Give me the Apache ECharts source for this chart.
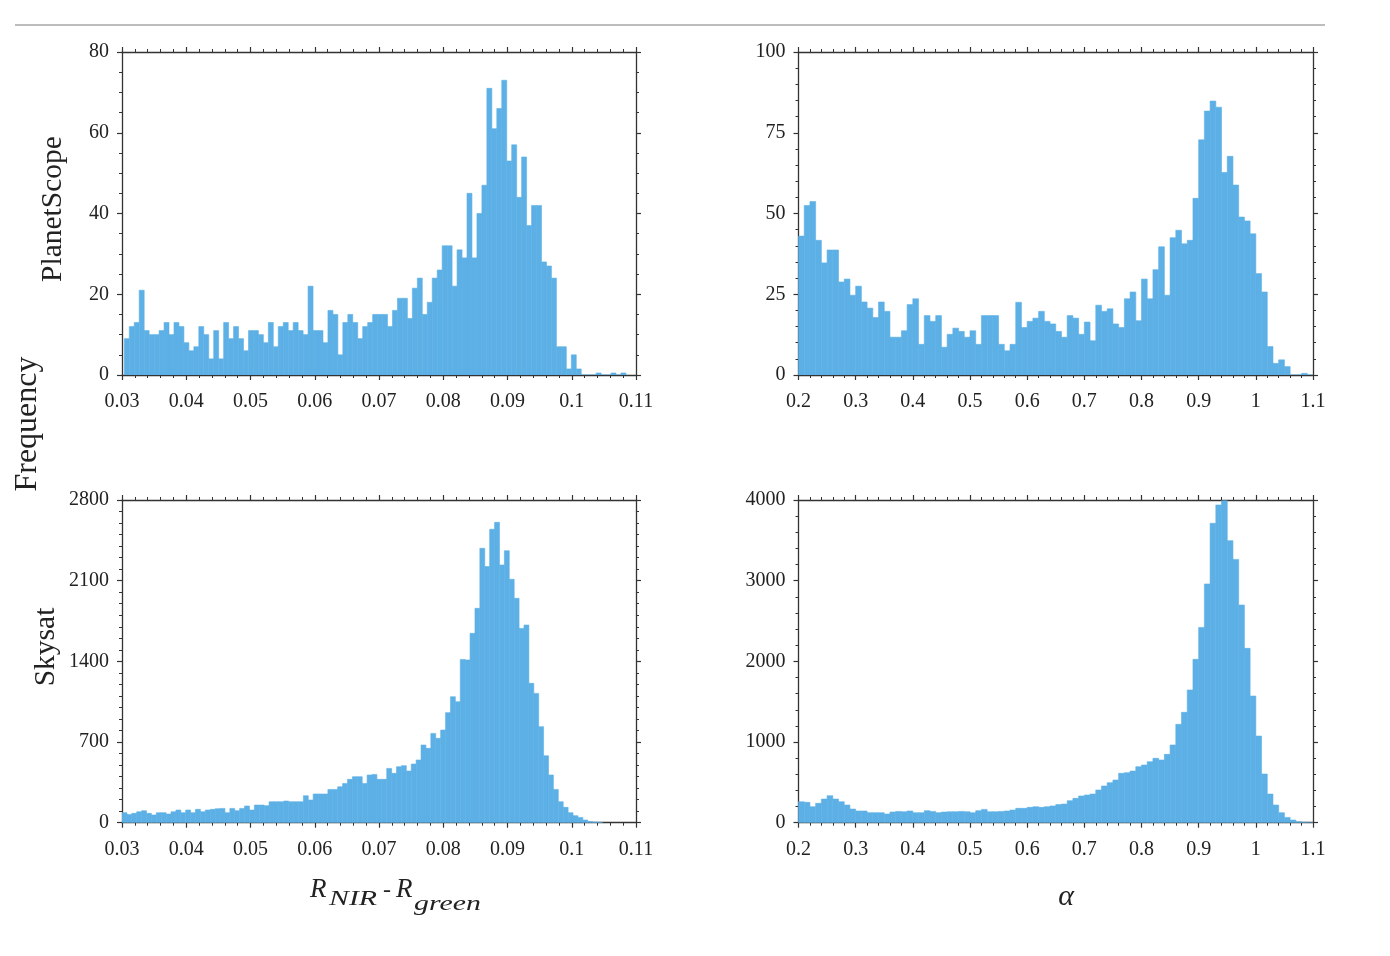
<!DOCTYPE html>
<html><head><meta charset="utf-8">
<script src="https://cdn.jsdelivr.net/npm/echarts@6/dist/echarts.min.js"></script>
<style>html,body{margin:0;padding:0;background:#fff}#c{width:1390px;height:956px}</style>
</head><body><div id="c"></div>
<script>
// ---------- DATA ----------
// PlanetScope, R_NIR - R_green
const psDiffBinStart = 0.03036;
const psDiffBinWidth = 0.000773;
const psDiffCounts = [9,12,13,21,11,10,10,11,13,10,13,12,8,6,7,12,10,4,11,4,13,9,12,9,6,11,11,10,8,13,7,12,13,11,13,11,10,22,11,11,8,16,15,5,13,15,13,9,12,13,15,15,15,12,16,19,19,14,21.5,24,15,18,24,26,32,32,22,31,29,45,29,40,47,71,61,66,73,53,57,44,54,37,42,42,28,27,24,7,7,1.5,5,1.5,0,0,0,0.5,0,0,0.5,0,0.5];
// PlanetScope, alpha
const psAlphaBinStart = 0.2;
const psAlphaBinWidth = 0.01;
const psAlphaCounts = [43,52.5,53.7,41.7,34.7,38.7,38.7,28.8,29.7,24.7,27.5,22.6,20.7,17.8,22.6,19.7,11.7,11.7,13.7,21.8,23.6,9.5,18.4,16.6,18.4,8.6,12.6,14.5,13.5,11.7,13.7,9.5,18.4,18.4,18.4,9.5,7.5,9.5,22.5,14.7,16.6,17.6,19.7,16.6,15.8,13.5,11.7,18.4,17.6,12.6,16.4,10.6,21.6,19.7,20.5,15.8,14.7,23.6,25.7,16.8,29.7,23.6,32.6,39.7,24.7,42.5,44.8,40.6,41.7,54.7,72.8,81.7,84.8,82.9,62.7,67.7,58.8,48.9,47.7,43.7,31.4,25.7,8.8,3.6,4.7,2.6,0,0,0.5,0];
// Skysat, R_NIR - R_green
const ssDiffBinStart = 0.03;
const ssDiffBinWidth = 0.000763;
const ssDiffCounts = [87,72,81,95,104,81,67,87,87,75,95,110,87,110,87,116,95,110,116,121,124,87,124,104,124,145,110,153,153,148,182,182,182,188,182,182,182,234,197,249,249,249,289,289,312,341,376,399,399,341,414,419,376,376,471,428,486,495,448,509,544,674,645,775,732,804,955,1093,1050,1417,1412,1643,1860,2381,2222,2546,2606,2236,2360,2112,1947,1686,1715,1209,1122,833,581,414,289,182,133,87,61,46,23,10,5,3];
// Skysat, alpha
const ssAlphaBinStart = 0.2;
const ssAlphaBinWidth = 0.01;
const ssAlphaCounts = [260,252,198,240,293,335,293,260,219,169,145,145,124,124,124,107,132,140,136,145,124,124,149,140,124,132,136,136,140,136,124,149,165,136,136,140,145,157,178,178,190,198,190,198,207,225,231,273,302,331,343,355,405,455,496,529,612,620,640,694,715,756,798,777,847,963,1219,1368,1645,2025,2421,2959,3711,3938,3990,3496,3264,2698,2161,1570,1074,603,355,219,124,66,33,12,4,0];

// tick values
const diffTicks = [0.03,0.04,0.05,0.06,0.07,0.08,0.09,0.1,0.11];
const alphaTicks = [0.2,0.3,0.4,0.5,0.6,0.7,0.8,0.9,1,1.1];
const psDiffYTicks = [0,20,40,60,80];
const psAlphaYTicks = [0,25,50,75,100];
const ssDiffYTicks = [0,700,1400,2100,2800];
const ssAlphaYTicks = [0,1000,2000,3000,4000];

// labels
const rowLabels = ['PlanetScope','Skysat'];
const yTitle = 'Frequency';

// ---------- BUILD ----------
const BAR = '#5DB0E5';
const AX = '#333';
const FONT = '"Liberation Serif","DejaVu Serif",serif';

function bins(start, w, counts){
  return counts.map((c,i)=>[start+i*w, start+(i+1)*w, c]);
}
const panels = [
  {grid:{left:122, top:52, width:514, height:323}, xt:diffTicks, yt:psDiffYTicks, xMinor:5, yMinor:4, data:bins(psDiffBinStart,psDiffBinWidth,psDiffCounts)},
  {grid:{left:798.5, top:52, width:514.5, height:323}, xt:alphaTicks, yt:psAlphaYTicks, xMinor:5, yMinor:5, data:bins(psAlphaBinStart,psAlphaBinWidth,psAlphaCounts)},
  {grid:{left:122, top:500, width:514, height:322.7}, xt:diffTicks, yt:ssDiffYTicks, xMinor:5, yMinor:7, data:bins(ssDiffBinStart,ssDiffBinWidth,ssDiffCounts)},
  {grid:{left:798.5, top:500, width:514.5, height:322.7}, xt:alphaTicks, yt:ssAlphaYTicks, xMinor:5, yMinor:5, data:bins(ssAlphaBinStart,ssAlphaBinWidth,ssAlphaCounts)}
];

function axisBase(ticks, minor, gi, pos, showLabel, isX){
  const mn = ticks[0], mx = ticks[ticks.length-1];
  const iv = +(ticks[1]-ticks[0]).toFixed(6);
  return {
    type:'value', gridIndex:gi, position:pos, min:mn, max:mx, interval:iv,
    axisLine:{show:true, onZero:false, lineStyle:{color:AX, width:1.3}},
    axisTick:{show:true, inside:false, length:5, lineStyle:{color:AX, width:1.2}},
    minorTick:{show:true, splitNumber:minor, length:3, lineStyle:{color:AX, width:1}},
    splitLine:{show:false}, minorSplitLine:{show:false},
    axisLabel:{show:showLabel, fontFamily:FONT, fontSize:20, color:'#222', margin: isX ? 17 : 13,
      formatter:(v)=>String(+v.toFixed(4))}
  };
}
const xAxes=[], yAxes=[], grids=[], series=[];
panels.forEach((p,i)=>{ grids.push(Object.assign({containLabel:false}, p.grid)); });
panels.forEach((p,i)=>{ xAxes.push(axisBase(p.xt,p.xMinor,i,'bottom',true,true)); });
panels.forEach((p,i)=>{ xAxes.push(axisBase(p.xt,p.xMinor,i,'top',false,true)); });
panels.forEach((p,i)=>{ yAxes.push(axisBase(p.yt,p.yMinor,i,'left',true,false)); });
panels.forEach((p,i)=>{ yAxes.push(axisBase(p.yt,p.yMinor,i,'right',false,false)); });
panels.forEach((p,i)=>{
  series.push({
    type:'custom', xAxisIndex:i, yAxisIndex:i, clip:true,
    encode:{x:[0,1], y:2},
    data:p.data,
    renderItem:function(params, api){
      const a = api.coord([api.value(0), api.value(2)]);
      const b = api.coord([api.value(1), 0]);
      return {type:'rect', shape:{x:a[0], y:a[1], width:b[0]-a[0], height:b[1]-a[1]},
        style:{fill:BAR, stroke:BAR, lineWidth:0.6}};
    }
  });
});

function txt(x, y, text, font, opts){
  return Object.assign({type:'text', x:x, y:y, style:{text:text, font:font, fill:'#222',
    align:(opts&&opts.align)||'left', verticalAlign:'middle',
    textAlign:(opts&&opts.align)||'left', textVerticalAlign:'middle'}}, (opts&&opts.extra)||{});
}
const graphic = [
  {type:'line', shape:{x1:15,y1:25,x2:1325,y2:25}, style:{stroke:'#bdbdbd', lineWidth:2}, silent:true},
  txt(28, 424, yTitle, '32px '+FONT, {align:'center', extra:{rotation:Math.PI/2}}),
  txt(53, 209, rowLabels[0], '29.5px '+FONT, {align:'center', extra:{rotation:Math.PI/2}}),
  txt(46, 647, rowLabels[1], '29.5px '+FONT, {align:'center', extra:{rotation:Math.PI/2}}),
  txt(310, 890, 'R', 'italic 27px '+FONT),
  txt(329, 899, 'NIR', 'italic 21px '+FONT, {extra:{scaleX:1.42}}),
  txt(383, 891, '-', '24px '+FONT),
  txt(396, 890, 'R', 'italic 27px '+FONT),
  txt(414, 904, 'green', 'italic 21px '+FONT, {extra:{scaleX:1.42}}),
  txt(1066, 897, 'α', 'italic 30px '+FONT, {align:'center'})
];

const chart = echarts.init(document.getElementById('c'), null, {renderer:'canvas'});
chart.setOption({
  animation:false,
  backgroundColor:'#fff',
  grid:grids, xAxis:xAxes, yAxis:yAxes, series:series, graphic:graphic
});
</script>
</body></html>
